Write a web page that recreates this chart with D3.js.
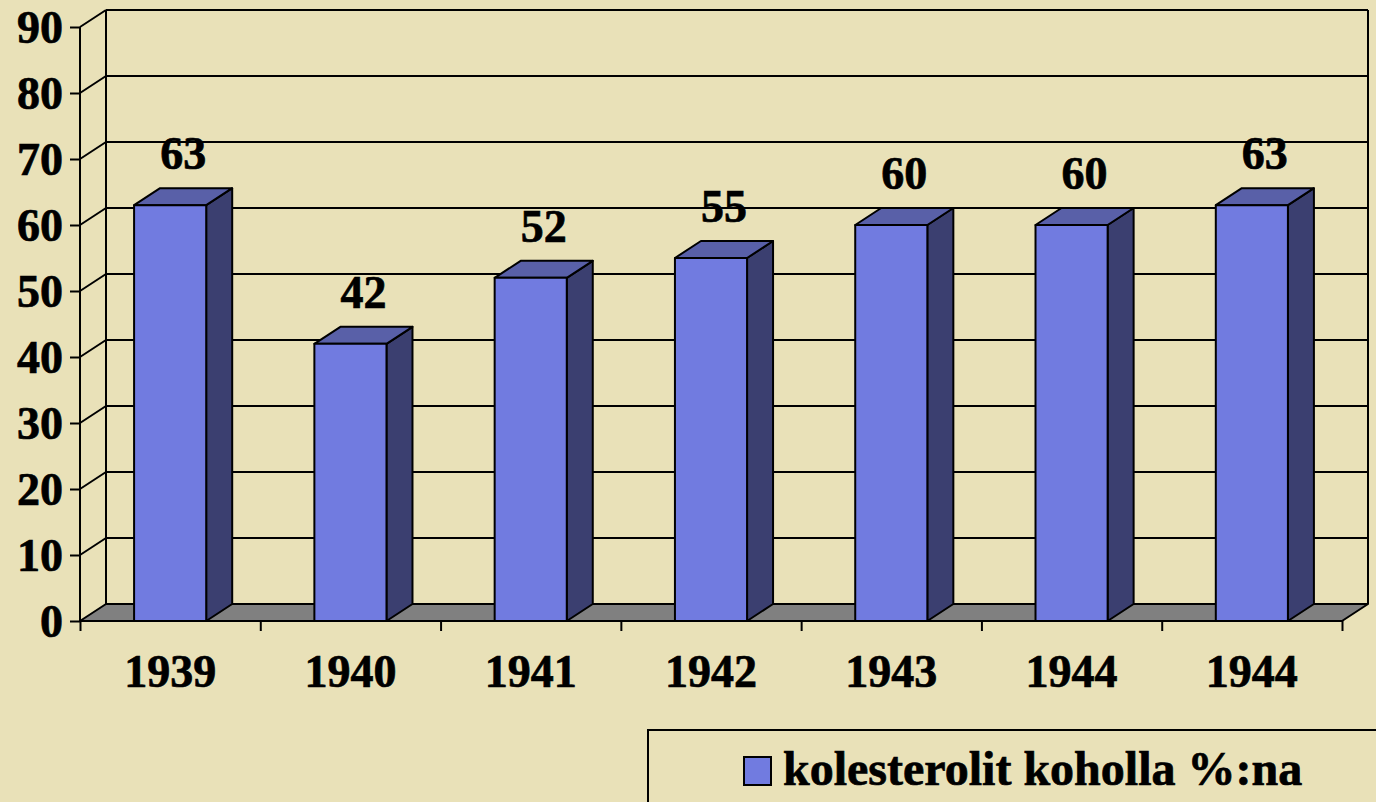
<!DOCTYPE html>
<html>
<head>
<meta charset="utf-8">
<script src="https://cdn.jsdelivr.net/npm/d3@7"></script>
<style>
  html, body { margin: 0; padding: 0; background: #e9e1b8; }
  svg { display: block; }
  text { font-family: "Liberation Serif", "Times New Roman", serif; font-weight: bold; fill: #000; stroke: #000; stroke-width: 0.7px; }
</style>
</head>
<body>
<div id="viz"></div>
<script>
var years = ['1939', '1940', '1941', '1942', '1943', '1944', '1944'],
    values = [63, 42, 52, 55, 60, 60, 63],
    yTicks = [0, 10, 20, 30, 40, 50, 60, 70, 80, 90],
    seriesName = 'kolesterolit koholla %:na';

var W = 1376, H = 802,
    bg = '#e9e1b8',
    plotLeft = 80, plotRight = 1342,
    plotBottom = 621, plotTop = 27,
    dx = 26, dy = 17;

var svg = d3.select('#viz').append('svg')
  .attr('width', W)
  .attr('height', H);

svg.append('rect').attr('width', W).attr('height', H).attr('fill', bg);

var xScale = d3.scaleBand()
  .domain(d3.range(years.length))
  .range([plotLeft, plotRight])
  .paddingInner(0.6)
  .paddingOuter(0.3);

var yScale = d3.scaleLinear()
  .domain([0, 90])
  .range([plotBottom, plotTop]);

// back wall + side wall gridlines
var grid = svg.append('g').attr('stroke', '#000').attr('stroke-width', 2).attr('fill', 'none');

grid.selectAll('.hgrid').data(yTicks.slice(1))
  .enter().append('line')
    .attr('x1', plotLeft + dx).attr('x2', plotRight + dx)
    .attr('y1', function(d) { return yScale(d) - dy; })
    .attr('y2', function(d) { return yScale(d) - dy; });

grid.selectAll('.sgrid').data(yTicks.slice(1))
  .enter().append('line')
    .attr('x1', plotLeft).attr('x2', plotLeft + dx)
    .attr('y1', function(d) { return yScale(d); })
    .attr('y2', function(d) { return yScale(d) - dy; });

grid.append('line')
  .attr('x1', plotLeft + dx).attr('x2', plotLeft + dx)
  .attr('y1', yScale(90) - dy).attr('y2', yScale(0) - dy);

grid.append('line')
  .attr('x1', plotRight + dx).attr('x2', plotRight + dx)
  .attr('y1', yScale(90) - dy).attr('y2', yScale(0) - dy);

// floor
svg.append('polygon')
  .attr('points', [
    [plotLeft, yScale(0)], [plotLeft + dx, yScale(0) - dy],
    [plotRight + dx, yScale(0) - dy], [plotRight, yScale(0)]
  ].join(' '))
  .attr('fill', '#808080')
  .attr('stroke', '#000')
  .attr('stroke-width', 2)
  .attr('stroke-linejoin', 'round');

// bars
var bars = svg.selectAll('.bar').data(values)
  .enter().append('g').attr('class', 'bar')
    .attr('stroke', '#000').attr('stroke-width', 2).attr('stroke-linejoin', 'round');

bars.append('polygon')
  .attr('fill', '#3b3f70')
  .attr('points', function(d, i) {
    var x1 = xScale(i) + xScale.bandwidth(), y = yScale(d), y0 = yScale(0);
    return [[x1, y], [x1 + dx, y - dy], [x1 + dx, y0 - dy], [x1, y0]].join(' ');
  });

bars.append('polygon')
  .attr('fill', '#5960a8')
  .attr('points', function(d, i) {
    var x0 = xScale(i), x1 = x0 + xScale.bandwidth(), y = yScale(d);
    return [[x0, y], [x0 + dx, y - dy], [x1 + dx, y - dy], [x1, y]].join(' ');
  });

bars.append('rect')
  .attr('fill', '#717be0')
  .attr('x', function(d, i) { return xScale(i); })
  .attr('y', function(d) { return yScale(d); })
  .attr('width', xScale.bandwidth())
  .attr('height', function(d) { return yScale(0) - yScale(d); });

// value labels
svg.selectAll('.vlabel').data(values)
  .enter().append('text')
    .attr('text-anchor', 'middle')
    .attr('font-size', 46)
    .attr('x', function(d, i) { return xScale(i) + xScale.bandwidth() / 2 + dx / 2; })
    .attr('y', function(d) { return yScale(d) - 36; })
    .text(function(d) { return d; });

// front y axis
var yAxis = d3.axisLeft(yScale).tickValues(yTicks).tickSize(10).tickPadding(7);
var yG = svg.append('g').attr('transform', 'translate(' + plotLeft + ',0)').call(yAxis);
yG.select('.domain').attr('stroke', '#000').attr('stroke-width', 2).attr('d', 'M0,' + yScale(0) + 'V' + yScale(90));
yG.selectAll('.tick line').attr('stroke', '#000').attr('stroke-width', 2);
yG.selectAll('.tick text')
  .attr('font-size', 46)
  .attr('font-family', '"Liberation Serif", serif')
  .attr('font-weight', 'bold')
  .attr('fill', '#000')
  .attr('dy', '0.34em');

// front x axis
var xEdges = d3.scaleLinear().domain([0, years.length]).range([plotLeft, plotRight]);
var xAxis = d3.axisBottom(xEdges).tickValues(d3.range(years.length + 1)).tickSize(10).tickFormat('');
var xG = svg.append('g').attr('transform', 'translate(0,' + yScale(0) + ')').call(xAxis);
xG.select('.domain').attr('stroke', '#000').attr('stroke-width', 2).attr('d', 'M' + plotLeft + ',0H' + plotRight);
xG.selectAll('.tick line').attr('stroke', '#000').attr('stroke-width', 2);

svg.selectAll('.xlabel').data(years)
  .enter().append('text')
    .attr('text-anchor', 'middle')
    .attr('font-size', 46)
    .attr('x', function(d, i) { return xScale(i) + xScale.bandwidth() / 2; })
    .attr('y', yScale(0) + 66)
    .text(function(d) { return d; });

// legend
var legend = svg.append('g');
legend.append('rect')
  .attr('x', 648).attr('y', 730).attr('width', 740).attr('height', 90)
  .attr('fill', bg).attr('stroke', '#000').attr('stroke-width', 2);
legend.append('rect')
  .attr('x', 744).attr('y', 757).attr('width', 27).attr('height', 28)
  .attr('fill', '#717be0').attr('stroke', '#000').attr('stroke-width', 2);
legend.append('text')
  .attr('x', 783).attr('y', 785)
  .attr('font-size', 48)
  .text(seriesName);
</script>
</body>
</html>
